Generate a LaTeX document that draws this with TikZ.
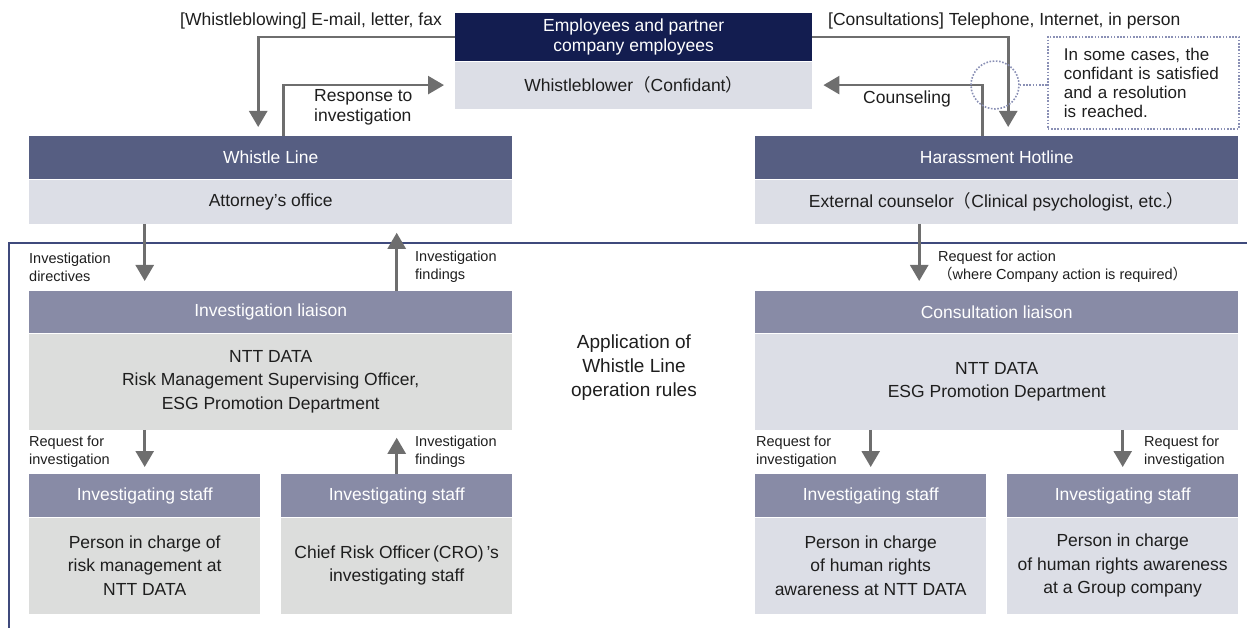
\documentclass[tikz,border=0pt]{standalone}
\usepackage{fontspec}
\setmainfont{Liberation Sans}
\newfontfamily\cjk{Noto Sans CJK JP}
\usepackage{tikz}
\usetikzlibrary{arrows.meta,positioning}
\definecolor{navy}{HTML}{131D50}
\definecolor{slate}{HTML}{565E82}
\definecolor{lilac}{HTML}{888BA6}
\definecolor{mist}{HTML}{DCDEE6}
\definecolor{ash}{HTML}{DCDDDC}
\definecolor{arrowgray}{HTML}{6E6E6E}
\definecolor{framebl}{HTML}{3F4A7C}
\definecolor{dotbl}{HTML}{8A90B5}
\definecolor{ink}{HTML}{1E1E1E}
\newcommand\jlp{{\cjk （}}
\newcommand\jrp{{\cjk ）}}

\begin{document}
\begin{tikzpicture}[x=1pt,y=-1pt,
    headbox/.style={fill=#1,text=white,inner sep=0pt,align=center,anchor=north west,
      font=\fontsize{17.5}{20}\selectfont},
    bodybox/.style={fill=#1,text=ink,inner sep=0pt,align=center,anchor=north,
      font=\fontsize{17.5}{23.5}\selectfont},
    lbl/.style={text=ink,inner sep=0pt,align=left,font=\fontsize{17.5}{20}\selectfont},
    smalllbl/.style={text=ink,inner sep=0pt,align=left,font=\fontsize{14.5}{18}\selectfont},
    arr/.style={arrowgray,line width=2.6pt,-{Triangle[width=18pt,length=16pt]}},
    dotline/.style={dotbl,line width=1.6pt,dash pattern=on 1.6pt off 1.6pt}]
                \useasboundingbox (0,0) rectangle (1247,628);
                \draw[framebl,line width=2pt] (9,628) -- (9,243) -- (1247,243);
                \node[headbox=navy,minimum width=357pt,minimum height=48pt] (emp-h) at (455,13) {Employees and partner\\company employees};
                \node[bodybox=mist,minimum width=357pt,minimum height=47pt] (emp-b) at (emp-h.south) {Whistleblower\jlp Confidant\jrp};
                \node[headbox=slate,minimum width=483pt,minimum height=43pt] (wl-h) at (29,136) {Whistle Line};
                \node[bodybox=mist,minimum width=483pt,minimum height=44pt] (wl-b) at (wl-h.south) {Attorney’s office};
                \node[headbox=slate,minimum width=483pt,minimum height=43pt] (hh-h) at (755,136) {Harassment Hotline};
                \node[bodybox=mist,minimum width=483pt,minimum height=44pt] (hh-b) at (hh-h.south) {External counselor\jlp Clinical psychologist, etc.\jrp};
                \node[headbox=lilac,minimum width=483pt,minimum height=42pt] (il-h) at (29,291) {Investigation liaison};
                \node[bodybox=ash,minimum width=483pt,minimum height=96pt] (il-b) at (il-h.south) {NTT DATA\\Risk Management Supervising Officer,\\ESG Promotion Department};
                \node[headbox=lilac,minimum width=483pt,minimum height=42pt] (cl-h) at (755,291) {Consultation liaison};
                \node[bodybox=mist,minimum width=483pt,minimum height=96pt] (cl-b) at (cl-h.south) {NTT DATA\\ESG Promotion Department};
                \foreach \n/\x/\c/\t in {st1/29/ash/{Person in charge of\\risk management at\\NTT DATA},
                    st2/281/ash/{Chief Risk Officer\,(CRO)\,’s\\investigating staff},
                    st3/755/mist/{Person in charge\\of human rights\\awareness at NTT DATA},
                    st4/1007/mist/{Person in charge\\of human rights awareness\\at a Group company}}
                {
                \node[headbox=lilac,minimum width=231pt,minimum height=43pt] (\n-h) at (\x,474) {Investigating staff};
                \node[bodybox=\c,minimum width=231pt,minimum height=96pt] (\n-b) at (\n-h.south) {\t};
                }
                \draw[arr,shorten >=9pt] (emp-h.west) -| ([xshift=-12.5pt]wl-h.north);
                \draw[arr,shorten >=11pt] ([xshift=12.5pt]wl-h.north) |- (emp-b.west);
                \draw[arr,shorten >=9pt] (emp-h.east) -| ([xshift=11.5pt]hh-h.north);
                \draw[arr,shorten >=11pt] ([xshift=-14.5pt]hh-h.north) |- (emp-b.east);
                \draw[arr,shorten >=10pt] (wl-b.south -| st1-h.north) -- (il-h.north -| st1-h.north);
                \draw[arr,shorten >=9pt] (il-h.north -| st2-h.north) -- (wl-b.south -| st2-h.north);
                \draw[arr,shorten >=10pt] ([xshift=-77.5pt]hh-b.south) -- ([xshift=-77.5pt]cl-h.north);
                \draw[arr,shorten >=7pt] (il-b.south -| st1-h.north) -- (st1-h.north);
                \draw[arr,shorten >=8pt] (st2-h.north) -- (il-b.south -| st2-h.north);
                \draw[arr,shorten >=7pt] (cl-b.south -| st3-h.north) -- (st3-h.north);
                \draw[arr,shorten >=7pt] (cl-b.south -| st4-h.north) -- (st4-h.north);
                \node[lbl,anchor=east] (blow) at (442,21) {[Whistleblowing] E-mail, letter, fax};
                \node[lbl,anchor=west] (consult) at (828,21) {[Consultations] Telephone, Internet, in person};
                \node[lbl,anchor=west] (resp) at (314,107) {Response to\\investigation};
                \node[lbl,anchor=west] (couns) at (863,99) {Counseling};
                \node[smalllbl,anchor=west] (dir) at (29,267) {Investigation\\directives};
                \node[smalllbl,anchor=west] (find1) at (415,267) {Investigation\\findings};
                \node[smalllbl,anchor=west] (act) at (938,267) {Request for action\\\jlp where Company action is required\jrp};
                \node[smalllbl,anchor=west] (req1) at (29,452) {Request for\\investigation};
                \node[smalllbl,anchor=west] (find2) at (415,452) {Investigation\\findings};
                \node[smalllbl,anchor=west] (req3) at (756,452) {Request for\\investigation};
                \node[smalllbl,anchor=west] (req4) at (1144,452) {Request for\\investigation};
                \node[text=ink,align=center,inner sep=0pt,font=\fontsize{19}{24}\selectfont] (rules) at (634,368) {Application of\\Whistle Line\\operation rules};
                \node[draw=dotbl,dotline,minimum width=191pt,minimum height=92pt,anchor=north west,inner xsep=16pt,inner ysep=0pt,
                    text width=159pt,align=left,text=ink,font=\fontsize{17}{19}\selectfont] (note) at (1047,36) {In some cases, the\\confidant is satisfied\\and a resolution\\is reached.};
                \node[circle,draw=dotbl,dotline,minimum size=48pt,inner sep=0pt] (sat) at (995,85) {};
                \draw[dotline] (sat.east) -- (note.west |- sat.east);
\end{tikzpicture}
\end{document}
